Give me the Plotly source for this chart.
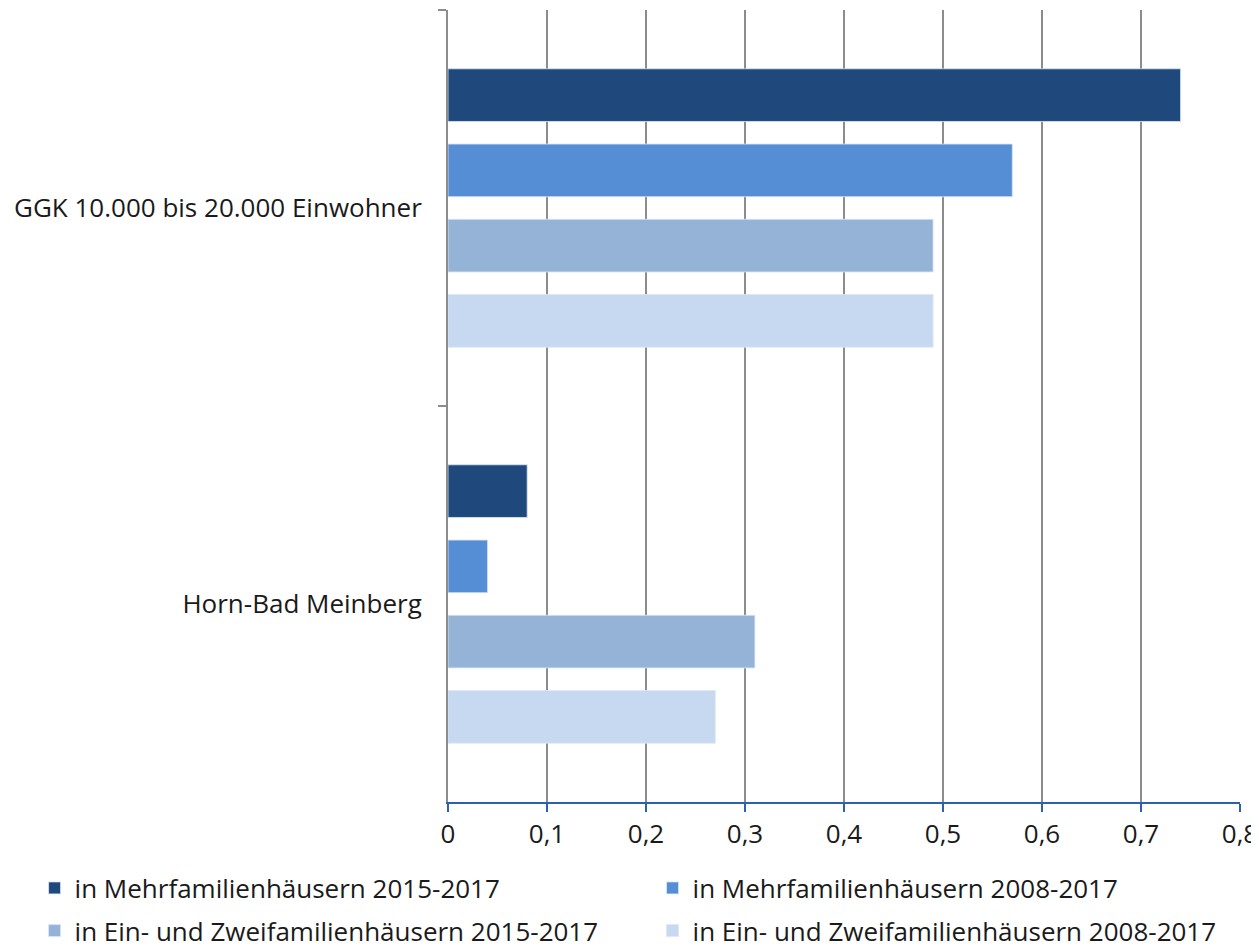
import plotly.graph_objects as go

categories = ["GGK 10.000 bis 20.000 Einwohner", "Horn-Bad Meinberg"]
series_names = [
    "in Mehrfamilienhäusern 2015-2017",
    "in Mehrfamilienhäusern 2008-2017",
    "in Ein- und Zweifamilienhäusern 2015-2017",
    "in Ein- und Zweifamilienhäusern 2008-2017",
]
mfh_2015 = [0.74, 0.08]
mfh_2008 = [0.57, 0.04]
ezfh_2015 = [0.49, 0.31]
ezfh_2008 = [0.49, 0.27]
x_tickvals = [0, 0.1, 0.2, 0.3, 0.4, 0.5, 0.6, 0.7, 0.8]

colors = ["#1f497d", "#558ed5", "#95b3d7", "#c6d9f1"]
values = [mfh_2015, mfh_2008, ezfh_2015, ezfh_2008]
legends = ["legend", "legend", "legend2", "legend2"]

FONT = "Open Sans"
FS = 26
fig = go.Figure()
for name, vals, col, lg in zip(series_names, values, colors, legends):
    fig.add_trace(go.Bar(
        y=categories, x=vals, name=name, orientation="h",
        marker=dict(color=col, line=dict(color="rgba(220,230,245,0.8)", width=1)),
        legend=lg,
    ))

legend_common = dict(
    orientation="h", xanchor="left", yanchor="middle",
    font=dict(family=FONT, size=FS, color="#1a1a1a"),
    entrywidth=573, itemwidth=30, bgcolor="rgba(0,0,0,0)",
    traceorder="normal",
)
fig.update_layout(
    width=1251, height=938,
    margin=dict(l=440, r=19, t=2, b=144, autoexpand=False),
    paper_bgcolor="white", plot_bgcolor="white",
    separators=",.",
    barmode="group", bargap=0.24, bargroupgap=0.3,
    font=dict(family=FONT, size=FS, color="#1a1a1a"),
    legend=dict(x=-0.522, y=-0.1086, **legend_common),
    legend2=dict(x=-0.522, y=-0.1625, **legend_common),
    showlegend=True,
)
fig.update_xaxes(
    range=[0, 0.8], tickvals=x_tickvals,
    showgrid=True, gridcolor="#8c8c8c", gridwidth=2,
    showline=True, linecolor="#2a62b0", linewidth=2,
    ticks="outside", tickcolor="#2a62b0", ticklen=8, tickwidth=1.5,
    zeroline=False, automargin=False,
    tickfont=dict(family=FONT, size=FS, color="#1a1a1a"),
)
fig.update_yaxes(
    autorange="reversed", showgrid=False, automargin=False,
    showline=True, linecolor="#8c8c8c", linewidth=2,
    ticks="outside", tickson="boundaries", tickcolor="#8c8c8c", ticklen=8, tickwidth=2,
    tickfont=dict(family=FONT, size=FS, color="#1a1a1a"),
    ticklabelstandoff=19,
)
fig.write_html("out.html")
